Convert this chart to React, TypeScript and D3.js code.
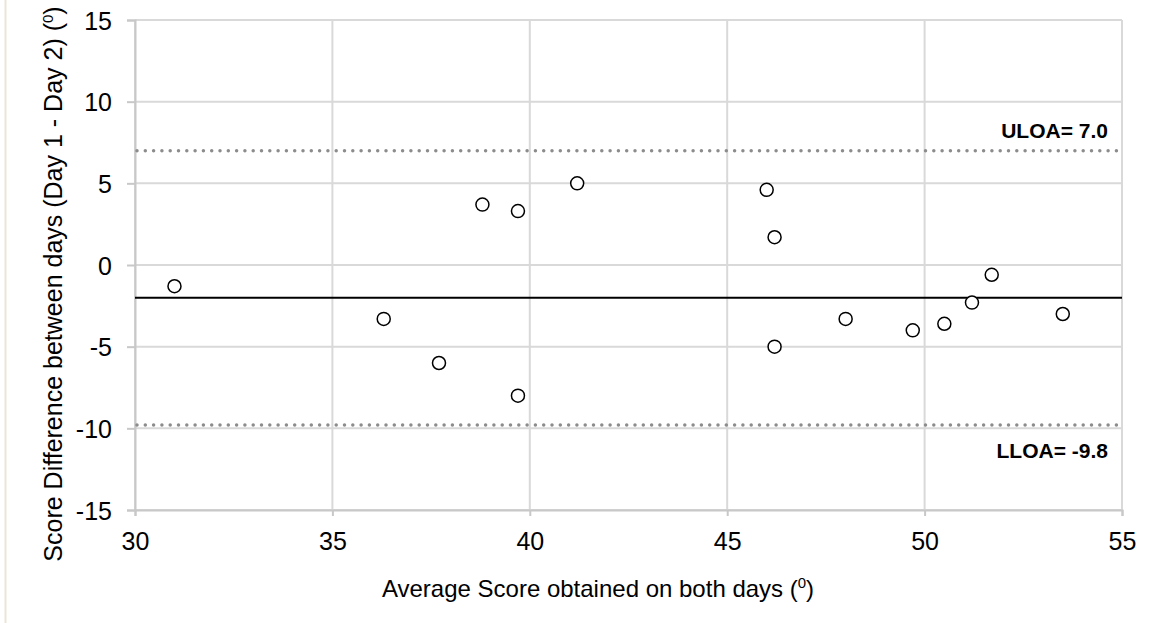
import React, { useEffect, useRef } from 'react';
import * as d3 from 'd3';

// Bland-Altman data
const avgScores = [31.0, 36.3, 37.7, 38.8, 39.7, 39.7, 41.2, 46.0, 46.2, 46.2, 48.0, 49.7, 50.5, 51.2, 51.7, 53.5];
const scoreDiffs = [-1.3, -3.3, -6.0, 3.7, 3.3, -8.0, 5.0, 4.6, 1.7, -5.0, -3.3, -4.0, -3.6, -2.3, -0.6, -3.0];
const xTicks = [30, 35, 40, 45, 50, 55];
const yTicks = [-15, -10, -5, 0, 5, 10, 15];
const meanDiff = -2.0;
const limits = [
  { label: 'ULOA= 7.0', value: 7.0 },
  { label: 'LLOA= -9.8', value: -9.8 },
];

const W = 1163;
const H = 623;

const App: React.FC = () => {
  const svgRef = useRef<SVGSVGElement>(null);

  useEffect(() => {
    if (!svgRef.current) return;
    const margin = { top: 20, right: 41, bottom: 113, left: 135 };
    const width = W - margin.left - margin.right;
    const height = H - margin.top - margin.bottom;
    const font = 'Arial, "Liberation Sans", sans-serif';

    const svg = d3.select(svgRef.current);
    svg.selectAll('*').remove();

    // light frame edge on the left
    svg.append('line')
      .attr('x1', 5.5).attr('x2', 5.5).attr('y1', 0).attr('y2', H)
      .attr('stroke', '#e9e6d8').attr('stroke-width', 2);

    const g = svg.append('g').attr('transform', `translate(${margin.left},${margin.top})`);

    const x = d3.scaleLinear().domain([30, 55]).range([0, width]);
    const y = d3.scaleLinear().domain([-15, 15]).range([height, 0]);

    // gridlines
    g.append('g')
      .selectAll('line')
      .data(yTicks)
      .enter()
      .append('line')
      .attr('x1', 0).attr('x2', width)
      .attr('y1', d => y(d)).attr('y2', d => y(d))
      .attr('stroke', '#d9d9d9').attr('stroke-width', 2);

    g.append('g')
      .selectAll('line')
      .data(xTicks)
      .enter()
      .append('line')
      .attr('y1', 0).attr('y2', height)
      .attr('x1', d => x(d)).attr('x2', d => x(d))
      .attr('stroke', '#d9d9d9').attr('stroke-width', 2);

    // axes
    const fmt = (d: d3.NumberValue) => String(d);
    const yAxis = g.append('g')
      .call(d3.axisLeft(y).tickValues(yTicks).tickSize(8).tickPadding(15).tickFormat(fmt));
    const xAxis = g.append('g')
      .attr('transform', `translate(0,${height})`)
      .call(d3.axisBottom(x).tickValues(xTicks).tickSize(6).tickPadding(16).tickFormat(fmt));

    [yAxis, xAxis].forEach(ax => {
      ax.select('.domain').attr('stroke', '#c8c8c8').attr('stroke-width', 2);
      ax.selectAll('.tick line').attr('stroke', '#c8c8c8').attr('stroke-width', 2);
      ax.selectAll('.tick text')
        .attr('fill', '#000')
        .style('font-family', font)
        .style('font-size', '25px');
    });
    yAxis.selectAll('.tick text').attr('dy', '0.36em');

    // limits of agreement
    g.append('g')
      .selectAll('line')
      .data(limits)
      .enter()
      .append('line')
      .attr('x1', 2).attr('x2', width)
      .attr('y1', d => y(d.value)).attr('y2', d => y(d.value))
      .attr('stroke', '#8c8c8c')
      .attr('stroke-width', 3.5)
      .attr('stroke-linecap', 'round')
      .attr('stroke-dasharray', '0 8.3');

    g.append('g')
      .selectAll('text')
      .data(limits)
      .enter()
      .append('text')
      .attr('x', width - 14)
      .attr('y', d => (d.value > 0 ? y(d.value) - 13 : y(d.value) + 33))
      .attr('text-anchor', 'end')
      .style('font-family', font)
      .style('font-size', '21px')
      .style('font-weight', 'bold')
      .text(d => d.label);

    // mean difference
    g.append('line')
      .attr('x1', 0).attr('x2', width)
      .attr('y1', y(meanDiff)).attr('y2', y(meanDiff))
      .attr('stroke', '#000').attr('stroke-width', 2);

    // points
    g.append('g')
      .selectAll('circle')
      .data(avgScores.map((a, i) => ({ a, d: scoreDiffs[i] })))
      .enter()
      .append('circle')
      .attr('cx', p => x(p.a))
      .attr('cy', p => y(p.d))
      .attr('r', 6.5)
      .attr('fill', '#fff')
      .attr('stroke', '#000')
      .attr('stroke-width', 1.5);

    // axis titles
    const xt = svg.append('text')
      .attr('x', 598)
      .attr('y', 597)
      .attr('text-anchor', 'middle')
      .style('font-family', font)
      .style('font-size', '24px')
      .text('Average Score obtained on both days (');
    xt.append('tspan').attr('dy', -9).style('font-size', '15px').text('0');
    xt.append('tspan').attr('dy', 9).text(')');

    const yt = svg.append('text')
      .attr('transform', `translate(62,${284}) rotate(-90)`)
      .attr('text-anchor', 'middle')
      .style('font-family', font)
      .style('font-size', '25px')
      .text('Score Difference between days (Day 1 - Day 2) (');
    yt.append('tspan').attr('dy', -9).style('font-size', '15px').text('0');
    yt.append('tspan').attr('dy', 9).text(')');
  }, []);

  return (
    <svg
      ref={svgRef}
      width={W}
      height={H}
      style={{ position: 'absolute', left: 0, top: 0, background: '#fff' }}
    />
  );
};

export default App;
